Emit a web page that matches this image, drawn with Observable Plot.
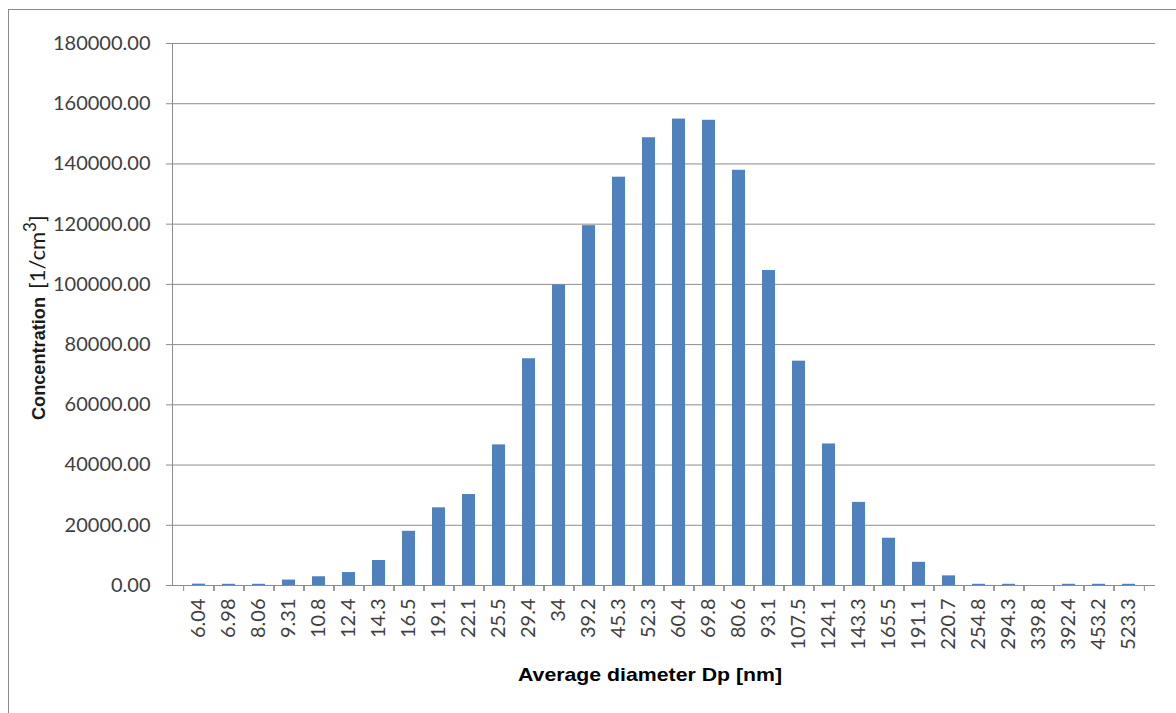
<!DOCTYPE html>
<html>
<head>
<meta charset="utf-8">
<script src="https://cdn.jsdelivr.net/npm/d3@7"></script>
<script src="https://cdn.jsdelivr.net/npm/@observablehq/plot@0.6"></script>
<style>
  html, body { margin: 0; padding: 0; background: #fff; overflow: hidden; }
  #wrap { position: relative; width: 1176px; height: 713px; }
  #border { position: absolute; left: 8px; top: 9px; width: 1300px; height: 900px;
            border-left: 1px solid #8a8a8a; border-top: 1px solid #8a8a8a; box-sizing: border-box; }
  #chart { position: absolute; left: 0; top: 0; }
</style>
</head>
<body>
<div id="wrap"><div id="border"></div><div id="chart"></div></div>
<script>
const diameters = ["6.04","6.98","8.06","9.31","10.8","12.4","14.3","16.5","19.1","22.1","25.5","29.4","34","39.2","45.3","52.3","60.4","69.8","80.6","93.1","107.5","124.1","143.3","165.5","191.1","220.7","254.8","294.3","339.8","392.4","453.2","523.3"];
const concentrations = [450,400,400,1800,2900,4300,8300,18000,25800,30200,46700,75300,99800,119500,135600,148700,154900,154500,137900,104600,74500,47000,27600,15700,7700,3200,400,400,0,400,400,400];
const yTicks = [0,20000,40000,60000,80000,100000,120000,140000,160000,180000];
const xTitle = "Average diameter Dp [nm]";
const yTitleMain = "Concentration";
const yTitleUnit = "[1/cm";
const yTitleSup = "3";

const data = diameters.map((d, i) => ({dp: d, c: concentrations[i]}));

const W = 1176, H = 713;
const mL = 172, mR = 21, mT = 43, mB = 128;
const step = (W - mL - mR) / diameters.length;
const gray = "#8c8c8c";
const font = "Lato, 'Open Sans', sans-serif";
const boldFont = "'Liberation Sans', Arial, sans-serif";

const chart = Plot.plot({
  width: W,
  height: H,
  marginLeft: mL,
  marginRight: mR,
  marginTop: mT,
  marginBottom: mB,
  style: {fontFamily: font, fontSize: "20px", color: "#404040", background: "transparent"},
  x: {type: "band", domain: diameters, paddingInner: 0.57, paddingOuter: 0.285, label: null},
  y: {domain: [0, 180000], label: null},
  marks: [
    Plot.gridY(yTicks, {stroke: gray, strokeOpacity: 1, strokeWidth: 1}),
    Plot.axisY(yTicks, {tickFormat: d3.format(".2f"), tickSize: 6, tickPadding: 16, stroke: gray, fill: "#404040", fontSize: 20, label: null}),
    Plot.frame({anchor: "left", stroke: gray}),
    Plot.barY(data, {x: "dp", y: "c", fill: "#4F81BD"}),
    Plot.ruleY([0], {stroke: gray}),
    Plot.axisX({tickSize: 6, text: null, dx: -step / 2, stroke: gray, label: null}),
    Plot.axisX({tickSize: 6, text: null, dx: step / 2, stroke: gray, label: null}),
    Plot.axisX({tickSize: 0, tickRotate: -90, tickPadding: 13, fill: "#404040", fontSize: 20, label: null})
  ]
});

const svg = d3.select(chart);
svg.append("text")
  .attr("x", 650).attr("y", 681)
  .attr("text-anchor", "middle")
  .attr("font-family", boldFont)
  .attr("font-weight", "bold")
  .attr("font-size", 19)
  .attr("textLength", 264)
  .attr("lengthAdjust", "spacingAndGlyphs")
  .attr("fill", "#000")
  .text(xTitle);

const yt = svg.append("text")
  .attr("transform", "translate(45,420) rotate(-90)")
  .attr("text-anchor", "start")
  .attr("font-family", boldFont)
  .attr("fill", "#1a1a1a");
yt.append("tspan").attr("font-weight", "bold").attr("font-size", 18.5)
  .attr("textLength", 123).attr("lengthAdjust", "spacingAndGlyphs").text(yTitleMain);
yt.append("tspan").attr("dx", 8).attr("font-family", font).attr("font-size", 22).text(yTitleUnit);
yt.append("tspan").attr("dy", -9).attr("font-family", font).attr("font-size", 17).text(yTitleSup);
yt.append("tspan").attr("dy", 9).attr("font-family", font).attr("font-size", 22).text("]");

document.getElementById("chart").appendChild(chart);
</script>
</body>
</html>
